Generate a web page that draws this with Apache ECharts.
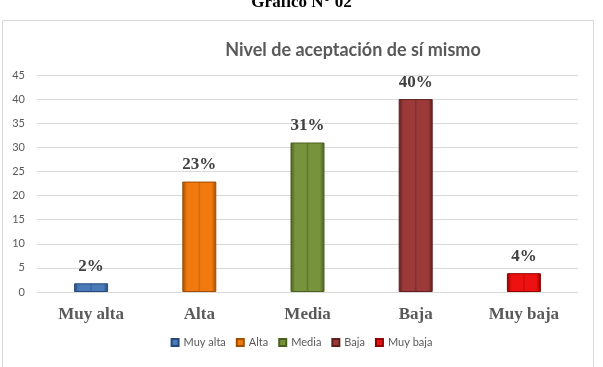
<!DOCTYPE html>
<html lang="es">
<head>
<meta charset="UTF-8">
<title>Nivel de aceptación de sí mismo</title>
<script src="https://cdn.jsdelivr.net/npm/echarts@6/dist/echarts.min.js"></script>
<style>
  * { margin: 0; padding: 0; }
  html, body { width: 603px; height: 367px; background: #fff; }
  #chart { width: 603px; height: 367px; }
</style>
</head>
<body>
<div id="chart"></div>
<script>
  var categories = ['Muy alta', 'Alta', 'Media', 'Baja', 'Muy baja'];
  var values = [1.8, 22.9, 31, 40, 3.9];
  var labels = ['2%', '23%', '31%', '40%', '4%'];
  var colors = ['#4a7ab8', '#f07a10', '#77933c', '#9b3a38', '#ee1111'];
  var darks = ['#234a7a', '#a04d00', '#4a6020', '#5e1f1e', '#900000'];
  var mids = ['#3a659c', '#cf680c', '#62792f', '#7f302e', '#c80c0c'];

  var chart = echarts.init(document.getElementById('chart'));

  var series = categories.map(function (name, i) {
    var data = categories.map(function (c, j) { return j === i ? values[i] : '-'; });
    return {
      name: name,
      type: 'bar',
      stack: 'all',
      barWidth: 34,
      data: data,
      itemStyle: {
        borderColor: darks[i],
        borderWidth: 1,
        color: new echarts.graphic.LinearGradient(0, 0, 1, 0, [
          { offset: 0, color: darks[i] },
          { offset: 0.14, color: colors[i] },
          { offset: 0.46, color: colors[i] },
          { offset: 0.5, color: mids[i] },
          { offset: 0.54, color: colors[i] },
          { offset: 0.86, color: colors[i] },
          { offset: 1, color: darks[i] }
        ])
      },
      label: {
        show: true,
        position: 'top',
        distance: 8,
        formatter: function () { return labels[i]; },
        fontFamily: 'Liberation Serif',
        fontWeight: 'bold',
        fontSize: 17,
        color: '#404040'
      }
    };
  });

  var option = {
    animation: false,
    color: colors,
    title: [{
      text: 'Gráfico N° 02',
      left: 'center',
      top: -11,
      textStyle: { fontFamily: 'Liberation Serif', fontWeight: 'bold', fontSize: 17, color: '#000' }
    }, {
      text: 'Nivel de aceptación de sí mismo',
      left: 348,
      textAlign: 'center',
      top: 36,
      textStyle: { fontFamily: 'Lato', fontWeight: 'bold', fontSize: 18, color: '#595959' }
    }],
    graphic: [{
      type: 'rect',
      shape: { x: 2.5, y: 20.5, width: 591, height: 360 },
      style: { fill: 'none', stroke: '#d9d9d9', lineWidth: 1 },
      z: -1
    }],
    legend: {
      data: categories,
      bottom: 14,
      left: 'center',
      icon: 'rect',
      itemWidth: 7,
      itemHeight: 7,
      itemGap: 10,
      textStyle: { fontFamily: 'Lato', fontSize: 11, color: '#595959' }
    },
    grid: { left: 37, right: 25, top: 75, bottom: 75 },
    xAxis: {
      type: 'category',
      data: categories,
      axisLine: { show: false },
      axisTick: { show: false },
      axisLabel: {
        margin: 14,
        fontFamily: 'Liberation Serif',
        fontWeight: 'bold',
        fontSize: 17,
        color: '#595959'
      }
    },
    yAxis: {
      type: 'value',
      min: 0,
      max: 45,
      interval: 5,
      axisLine: { show: false },
      axisTick: { show: false },
      axisLabel: { margin: 12, fontFamily: 'Lato', fontSize: 11, color: '#595959' },
      splitLine: { lineStyle: { color: '#d9d9d9' } }
    },
    series: series
  };
  chart.setOption(option);
</script>
</body>
</html>
